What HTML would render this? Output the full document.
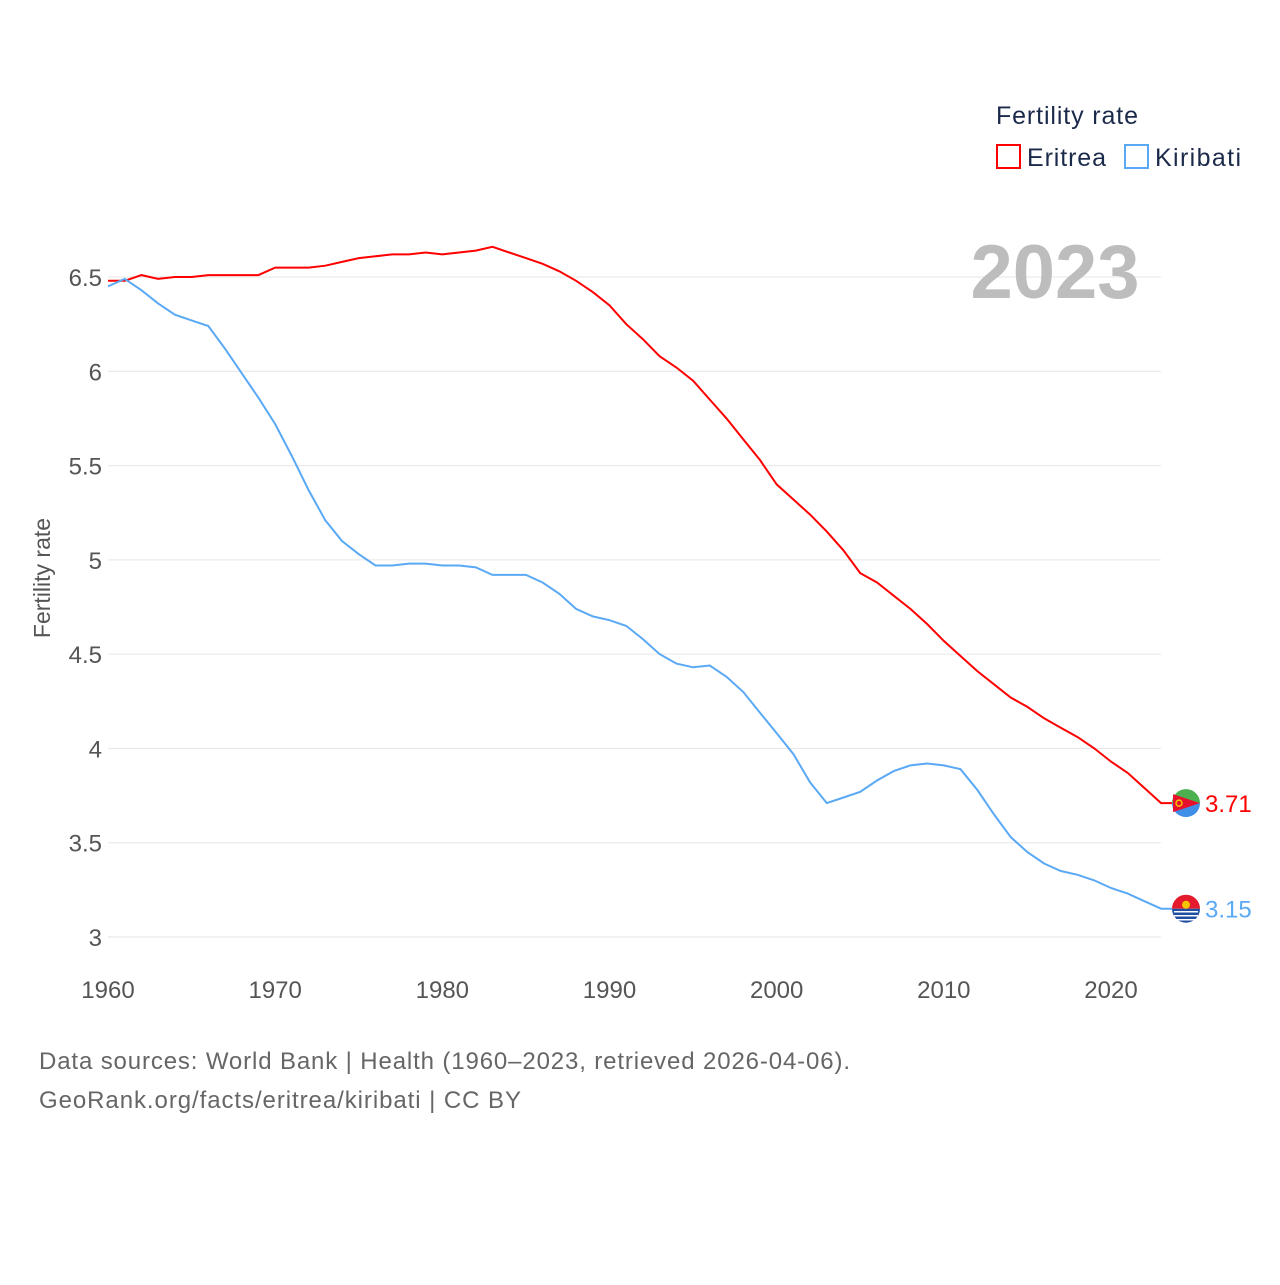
<!DOCTYPE html>
<html><head><meta charset="utf-8"><style>
body{margin:0;background:#fff;font-family:"Liberation Sans",sans-serif}
svg text{font-family:"Liberation Sans",sans-serif}
</style></head><body>
<svg id="c" width="1280" height="1280" viewBox="0 0 1280 1280">
<g id="grid"></g>
<g id="lines"></g>
<text x="1055" y="298" font-size="76" font-weight="bold" fill="#bdbdbd" text-anchor="middle">2023</text>
<text x="996" y="124" font-size="25" fill="#1b2a4a" textLength="142">Fertility rate</text>
<g><rect x="997" y="145" width="23" height="23" fill="none" stroke="#f00" stroke-width="2"/><text x="1027" y="166" font-size="25" fill="#1b2a4a" textLength="79">Eritrea</text></g>
<g><rect x="1125" y="145" width="23" height="23" fill="none" stroke="#5aa9f5" stroke-width="2"/><text x="1155" y="166" font-size="25" fill="#1b2a4a" textLength="86">Kiribati</text></g>
<text transform="translate(50,578) rotate(-90)" font-size="23" fill="#555" text-anchor="middle">Fertility rate</text>
<text x="39" y="1069" font-size="24" fill="#666" textLength="811">Data sources: World Bank | Health (1960–2023, retrieved 2026-04-06).</text>
<text x="39" y="1108" font-size="24" fill="#666" textLength="482">GeoRank.org/facts/eritrea/kiribati | CC BY</text>
</svg>
<script>
const years=[];for(let y=1960;y<=2023;y++)years.push(y);
const eritrea=[6.48,6.48,6.51,6.49,6.50,6.50,6.51,6.51,6.51,6.51,6.55,6.55,6.55,6.56,6.58,6.60,6.61,6.62,6.62,6.63,6.62,6.63,6.64,6.66,6.63,6.60,6.57,6.53,6.48,6.42,6.35,6.25,6.17,6.08,6.02,5.95,5.85,5.75,5.64,5.53,5.40,5.32,5.24,5.15,5.05,4.93,4.88,4.81,4.74,4.66,4.57,4.49,4.41,4.34,4.27,4.22,4.16,4.11,4.06,4.00,3.93,3.87,3.79,3.71];
const kiribati=[6.45,6.49,6.43,6.36,6.30,6.27,6.24,6.12,5.99,5.86,5.72,5.55,5.37,5.21,5.10,5.03,4.97,4.97,4.98,4.98,4.97,4.97,4.96,4.92,4.92,4.92,4.88,4.82,4.74,4.70,4.68,4.65,4.58,4.50,4.45,4.43,4.44,4.38,4.30,4.19,4.08,3.97,3.82,3.71,3.74,3.77,3.83,3.88,3.91,3.92,3.91,3.89,3.78,3.65,3.53,3.45,3.39,3.35,3.33,3.30,3.26,3.23,3.19,3.15];
const yTicks=[3,3.5,4,4.5,5,5.5,6,6.5];
const xTicks=[1960,1970,1980,1990,2000,2010,2020];
const X=y=>108+(y-1960)*(1003/60);
const Y=v=>937-(v-3)*(660/3.5);
const NS="http://www.w3.org/2000/svg";
const grid=document.getElementById('grid'),lines=document.getElementById('lines');
function mk(tag,attrs,parent){const e=document.createElementNS(NS,tag);for(const k in attrs)e.setAttribute(k,attrs[k]);parent.appendChild(e);return e;}
yTicks.forEach(t=>{
 const l=mk('line',{x1:108,x2:1161,y1:Y(t),y2:Y(t),stroke:'#e6e6e6'},grid);
 
 
 const tx=mk('text',{x:102,y:Y(t)+9,'font-size':24,fill:'#555','text-anchor':'end'},grid);tx.textContent=String(t);
 
 
});
xTicks.forEach(t=>{
 const tx=mk('text',{x:X(t),y:998,'font-size':24,fill:'#555','text-anchor':'middle'},grid);tx.textContent=String(t);
 
 
});
function series(vals,color,name,label,top,bottom,mark){
 const d=vals.map((v,i)=>(i?'L':'M')+X(years[i]).toFixed(1)+' '+Y(v).toFixed(1)).join(' ');
 const last=vals[vals.length-1],ly=Y(last);
 const p=mk('path',{d:d+' L 1172 '+ly.toFixed(1),fill:'none',stroke:color,'stroke-width':2},lines);
 
 
 const g=mk('g',{},lines);
 
 
 mk('path',{d:`M ${1172} ${ly} A 14 14 0 0 1 1200 ${ly} Z`,fill:top},g);
 mk('path',{d:`M ${1172} ${ly} A 14 14 0 0 0 1200 ${ly} Z`,fill:bottom},g);
 mark(g,ly);
 const t=mk('text',{x:1205,y:ly+9,'font-size':24,fill:color},lines);t.textContent=label;
 
 
}
series(eritrea,'#ff0000','eritrea','3.71','#4caf50','#3f8ee8',(g,ly)=>{mk('path',{d:`M 1173 ${ly-9} L 1200 ${ly} L 1173 ${ly+9} Z`,fill:'#e8112d'},g);mk('circle',{cx:1179,cy:ly,r:3,fill:'none',stroke:'#f5c400','stroke-width':1.5},g);});
series(kiribati,'#5aa9f5','kiribati','3.15','#e41b2c','#1f4fa0',(g,ly)=>{mk('circle',{cx:1186,cy:ly-4,r:4,fill:'#f5c400'},g);mk('path',{d:`M 1174 ${ly+3} h24 M 1174 ${ly+7} h24 M 1176 ${ly+11} h20`,stroke:'#fff','stroke-width':1.5},g);});
</script>
</body></html>
